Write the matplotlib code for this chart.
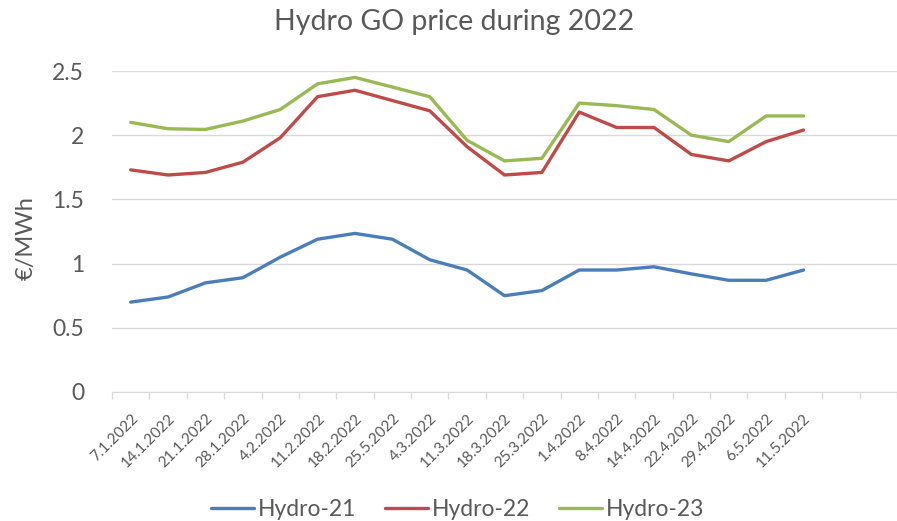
import matplotlib.pyplot as plt

plt.rcParams["font.family"] = ["Lato", "DejaVu Sans"]

dates = ["7.1.2022", "14.1.2022", "21.1.2022", "28.1.2022", "4.2.2022", "11.2.2022",
         "18.2.2022", "25.5.2022", "4.3.2022", "11.3.2022", "18.3.2022", "25.3.2022",
         "1.4.2022", "8.4.2022", "14.4.2022", "22.4.2022", "29.4.2022", "6.5.2022",
         "11.5.2022"]
hydro21 = [0.70, 0.74, 0.85, 0.89, 1.05, 1.19, 1.235, 1.19, 1.03, 0.95, 0.75, 0.79,
           0.95, 0.95, 0.975, 0.92, 0.87, 0.87, 0.95]
hydro22 = [1.73, 1.69, 1.71, 1.79, 1.98, 2.30, 2.35, 2.27, 2.19, 1.91, 1.69, 1.71,
           2.18, 2.06, 2.06, 1.85, 1.80, 1.95, 2.04]
hydro23 = [2.10, 2.05, 2.045, 2.11, 2.20, 2.40, 2.45, 2.375, 2.30, 1.96, 1.80, 1.82,
           2.25, 2.23, 2.20, 2.00, 1.95, 2.15, 2.15]

grey = "#595959"
fig = plt.figure(figsize=(8.97, 5.21), dpi=100)
ax = fig.add_axes([112 / 897, 1 - 392 / 521, 785 / 897, 321 / 521])

x = range(len(dates))
ax.plot(x, hydro21, color="#4a7ebb", lw=2.4, label="Hydro-21", solid_capstyle="round")
ax.plot(x, hydro22, color="#be4b48", lw=2.4, label="Hydro-22", solid_capstyle="round")
ax.plot(x, hydro23, color="#98b954", lw=2.4, label="Hydro-23", solid_capstyle="round")

ax.set_ylim(0, 2.5)
ax.set_yticks([0, 0.5, 1, 1.5, 2, 2.5])
ax.set_yticklabels(["0", "0.5", "1", "1.5", "2", "2.5"])
# category axis: 21 slots, the chart is cut off at the right edge
ax.set_xlim(-0.5, -0.5 + 785 / 37.7)
ax.set_xticks([i - 0.5 for i in range(22)])
ax.set_xticklabels([])
ax.set_xticks(list(x), minor=True)
ax.set_xticklabels(dates, minor=True, rotation=45, ha="right", rotation_mode="anchor",
                   fontsize=11, color=grey)
ax.tick_params(axis="x", which="minor", length=0, pad=14)
ax.tick_params(axis="x", which="major", length=5, color="#d9d9d9", width=1)
ax.tick_params(axis="y", length=0, labelsize=16.5, labelcolor=grey, pad=20)

ax.grid(axis="y", color="#d9d9d9", lw=1)
ax.set_axisbelow(True)
for s in ["top", "right", "left"]:
    ax.spines[s].set_visible(False)
ax.spines["bottom"].set_color("#d9d9d9")

fig.text(26 / 897, 1 - 238 / 521, "€/MWh", rotation=90, ha="center", va="center",
         fontsize=17, color=grey)
fig.text(0.506, 0.957, "Hydro GO price during 2022", ha="center", va="center",
         fontsize=20.5, color=grey)
fig.legend(loc="lower center", bbox_to_anchor=(0.51, -0.038), ncol=3, frameon=False,
           fontsize=16.5, labelcolor=grey, handlelength=1.9, handletextpad=0.15,
           columnspacing=1.25)

fig.savefig("out.png", dpi=100)
